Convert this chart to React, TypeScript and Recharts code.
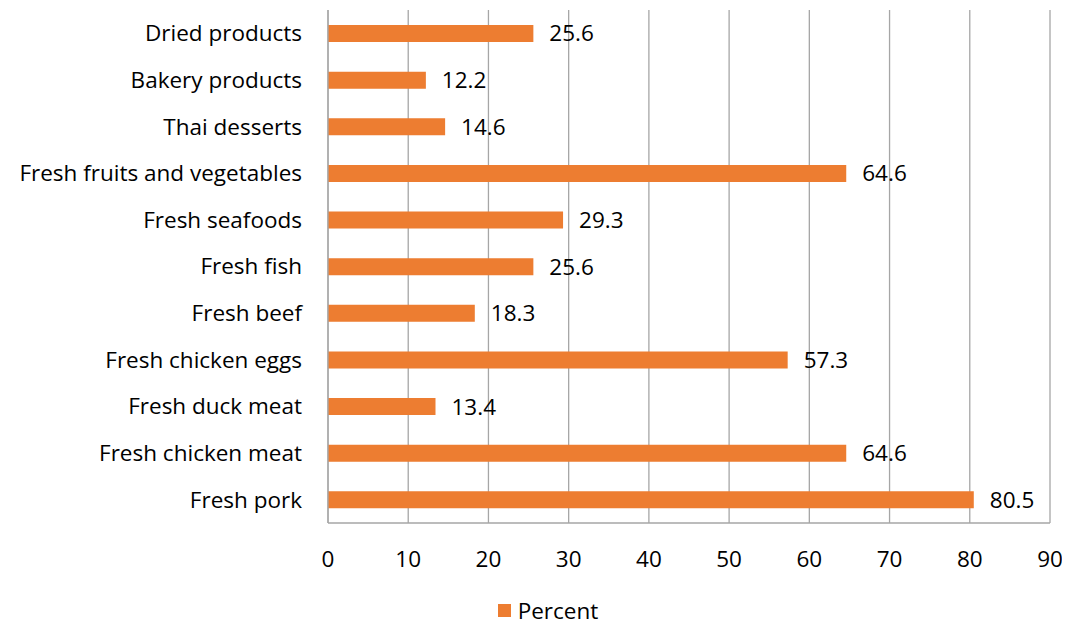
import React from 'react';
import {
  BarChart,
  Bar,
  XAxis,
  YAxis,
  CartesianGrid,
  Legend,
  LabelList,
} from 'recharts';

const categories = [
  'Dried products',
  'Bakery products',
  'Thai desserts',
  'Fresh fruits and vegetables',
  'Fresh seafoods',
  'Fresh fish',
  'Fresh beef ',
  'Fresh chicken eggs',
  'Fresh duck meat',
  'Fresh chicken meat',
  'Fresh pork',
];
const percent = [25.6, 12.2, 14.6, 64.6, 29.3, 25.6, 18.3, 57.3, 13.4, 64.6, 80.5];
const xTicks = [0, 10, 20, 30, 40, 50, 60, 70, 80, 90];

const data = categories.map((name, i) => ({ name, Percent: percent[i] }));

const FONT = '"Open Sans", Lato, sans-serif';
const GRID = '#a6a6a6';
const FS = 22.5;

function LegendBox() {
  return (
    <div style={{ display: 'flex', justifyContent: 'center', alignItems: 'center', fontFamily: FONT, fontSize: FS, color: '#000', paddingTop: 12, paddingLeft: 38 }}>
      <span style={{ width: 13, height: 13, background: '#ED7D31', display: 'inline-block', marginRight: 7 }} />
      <span>Percent</span>
    </div>
  );
}

export default function App() {
  return (
    <div style={{ width: 1054, height: 616, fontFamily: FONT }}>
      <BarChart
        width={1054}
        height={616}
        data={data}
        layout="vertical"
        margin={{ top: 2, right: 12, left: 0, bottom: 0 }}
      >
        <CartesianGrid horizontal={false} stroke={GRID} strokeWidth={1.3} />
        <XAxis
          type="number"
          domain={[0, 90]}
          ticks={xTicks}
          tickLine={false}
          axisLine={{ stroke: GRID, strokeWidth: 1.3 }}
          tick={{ fontSize: FS, fill: '#000', fontFamily: FONT }}
          tickMargin={22}
          height={60}
          interval={0}
        />
        <YAxis
          type="category"
          dataKey="name"
          width={320}
          tickLine={false}
          axisLine={{ stroke: GRID, strokeWidth: 1.3 }}
          tick={{ fontSize: FS, fill: '#000', fontFamily: FONT }}
          tickMargin={20}
          interval={0}
        />
        <Legend verticalAlign="bottom" height={41} content={<LegendBox />} />
        <Bar dataKey="Percent" fill="#ED7D31" barSize={17} isAnimationActive={false}>
          <LabelList
            dataKey="Percent"
            position="right"
            offset={16}
            style={{ fontSize: FS, fill: '#000', fontFamily: FONT }}
          />
        </Bar>
      </BarChart>
    </div>
  );
}
